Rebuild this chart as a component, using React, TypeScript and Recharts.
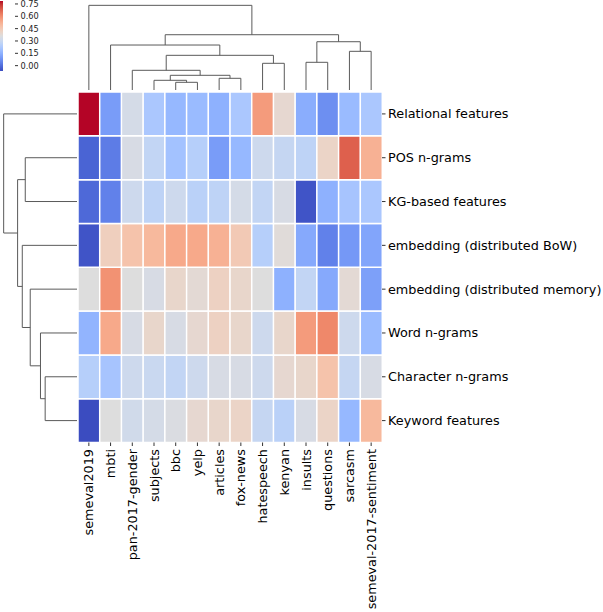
import React from "react";
import { BarChart, Bar, Cell, XAxis, YAxis, ComposedChart, Line, ReferenceArea } from "recharts";

const columns = [
  "semeval2019", "mbti", "pan-2017-gender", "subjects", "bbc", "yelp", "articles",
  "fox-news", "hatespeech", "kenyan", "insults", "questions", "sarcasm", "semeval-2017-sentiment",
];

const rows = [
  "Relational features", "POS n-grams", "KG-based features", "embedding (distributed BoW)",
  "embedding (distributed memory)", "Word n-grams", "Character n-grams", "Keyword features",
];

// one array per row, values in column order
const relational = [0.786, 0.10, 0.33, 0.22, 0.17, 0.18, 0.15, 0.22, 0.57, 0.39, 0.14, 0.07, 0.18, 0.22];
const posNgrams = [-0.02, 0.03, 0.34, 0.28, 0.20, 0.25, 0.10, 0.17, 0.31, 0.29, 0.27, 0.41, 0.68, 0.52];
const kgBased = [-0.01, 0.04, 0.31, 0.27, 0.31, 0.26, 0.27, 0.33, 0.28, 0.34, -0.05, 0.15, 0.21, 0.22];
const embeddingBow = [-0.05, 0.43, 0.47, 0.50, 0.54, 0.54, 0.52, 0.45, 0.25, 0.37, 0.13, 0.04, 0.09, 0.12];
const embeddingMemory = [0.36, 0.59, 0.36, 0.34, 0.40, 0.38, 0.42, 0.40, 0.36, 0.15, 0.28, 0.13, 0.38, 0.11];
const wordNgrams = [0.16, 0.54, 0.34, 0.40, 0.34, 0.39, 0.42, 0.40, 0.31, 0.40, 0.57, 0.61, 0.31, 0.18];
const charNgrams = [0.25, 0.21, 0.31, 0.30, 0.28, 0.31, 0.34, 0.34, 0.31, 0.39, 0.40, 0.47, 0.29, 0.34];
const keyword = [-0.065, 0.36, 0.32, 0.33, 0.35, 0.39, 0.40, 0.41, 0.29, 0.26, 0.34, 0.41, 0.17, 0.50];

const matrix = [relational, posNgrams, kgBased, embeddingBow, embeddingMemory, wordNgrams, charNgrams, keyword];

// linkage: [child a, child b, distance]; children >= n refer to earlier merges
const colLinkage = [
  [4, 5, 0.77], [3, 14, 0.97], [6, 7, 1.17], [15, 16, 1.47], [2, 17, 1.97],
  [8, 9, 2.67], [10, 11, 2.77], [18, 19, 3.47], [12, 13, 3.87], [1, 21, 4.5],
  [20, 22, 4.83], [23, 24, 5.53], [0, 25, 8.47],
];
const rowLinkage = [
  [6, 7, 3.2], [5, 8, 3.67], [4, 9, 4.7], [1, 2, 5.2], [3, 10, 5.5], [11, 12, 5.97], [0, 13, 7.37],
];

const cbarTicks = [0, 0.15, 0.3, 0.45, 0.6, 0.75];

// coolwarm colormap
const coolwarm = [
  [59, 76, 192], [68, 90, 204], [77, 104, 215], [87, 117, 225], [98, 130, 234], [108, 142, 241],
  [119, 154, 247], [130, 165, 251], [141, 176, 254], [152, 185, 255], [163, 194, 255], [174, 201, 253],
  [184, 208, 249], [194, 213, 244], [204, 217, 238], [213, 219, 230], [221, 221, 221], [229, 216, 209],
  [236, 211, 197], [241, 204, 185], [245, 196, 173], [247, 187, 160], [247, 177, 148], [247, 166, 135],
  [244, 154, 123], [241, 141, 111], [236, 127, 99], [229, 112, 88], [222, 96, 77], [213, 80, 66],
  [203, 62, 56], [192, 40, 47], [180, 4, 38],
];

const allValues = matrix.flat();
const vmin = Math.min(...allValues);
const vmax = Math.max(...allValues);

function cmap(t: number) {
  const s = Math.max(0, Math.min(1, t)) * (coolwarm.length - 1);
  const i = Math.min(Math.floor(s), coolwarm.length - 2);
  const f = s - i;
  const c = coolwarm[i].map((v, k) => Math.round(v + (coolwarm[i + 1][k] - v) * f));
  return `rgb(${c[0]},${c[1]},${c[2]})`;
}
const colorOf = (v: number) => cmap((v - vmin) / (vmax - vmin));

function buildLinks(linkage: number[][], n: number) {
  const pos = Array.from({ length: n }, (_, i) => i + 0.5);
  const hgt: number[] = Array(n).fill(0);
  return linkage.map(([a, b, h]) => {
    const seg = [
      { p: pos[a], h: hgt[a] },
      { p: pos[a], h },
      { p: pos[b], h },
      { p: pos[b], h: hgt[b] },
    ];
    pos.push((pos[a] + pos[b]) / 2);
    hgt.push(h);
    return seg;
  });
}

const colLinks = buildLinks(colLinkage, columns.length);
const rowLinks = buildLinks(rowLinkage, rows.length);
const colMax = Math.max(...colLinkage.map((l) => l[2]));
const rowMax = Math.max(...rowLinkage.map((l) => l[2]));

const table = columns.map((col) => {
  const o: any = { col };
  rows.forEach((_, r) => (o["r" + r] = 1));
  return o;
});

const FONT = "DejaVu Sans";
const LINE = "#5a5a5a";

const ColumnTick = (props: any) => {
  const { x, y, payload } = props;
  return (
    <text
      x={x}
      y={y}
      transform={`rotate(-90, ${x}, ${y})`}
      textAnchor="end"
      dominantBaseline="central"
      fontSize={12.8}
      fontFamily={FONT}
      fill="#000"
    >
      {payload.value}
    </text>
  );
};

const RowTick = (props: any) => {
  const { x, y, payload } = props;
  return (
    <text x={x} y={y} textAnchor="start" dominantBaseline="central" fontSize={12.8} fontFamily={FONT} fill="#000">
      {rows[rows.length - 1 - Math.floor(payload.value)]}
    </text>
  );
};

const CbarTick = (props: any) => {
  const { x, y, payload } = props;
  return (
    <text x={x} y={y} textAnchor="start" dominantBaseline="central" fontSize={8.2} fontFamily={FONT} fill="#222">
      {Number(payload.value).toFixed(2)}
    </text>
  );
};

export default function App() {
  const abs: React.CSSProperties = { position: "absolute", left: 0, top: 0 };
  return (
    <div style={{ position: "absolute", left: 0, top: 0, width: 603, height: 612, background: "#fff" }}>
      {/* heatmap */}
      <div style={abs}>
        <BarChart
          width={603}
          height={612}
          data={table}
          margin={{ top: 92, left: 78, right: 21, bottom: 9.5 }}
          barCategoryGap={0}
          barGap={0}
        >
          <XAxis
            dataKey="col"
            height={160}
            interval={0}
            axisLine={false}
            tickSize={3.5}
            tickMargin={3}
            tickLine={{ stroke: "#333" }}
            tick={<ColumnTick />}
          />
          <YAxis
            type="number"
            orientation="right"
            width={200}
            domain={[0, rows.length]}
            ticks={rows.map((_, i) => i + 0.5)}
            interval={0}
            axisLine={false}
            tickSize={3.5}
            tickMargin={2.5}
            tickLine={{ stroke: "#333" }}
            tick={<RowTick />}
          />
          {rows
            .map((_, r) => r)
            .reverse()
            .map((r) => (
              <Bar key={r} dataKey={"r" + r} stackId="s" isAnimationActive={false}>
                {columns.map((_, c) => (
                  <Cell key={c} fill={colorOf(matrix[r][c])} stroke="#fff" strokeWidth={1.5} />
                ))}
              </Bar>
            ))}
        </BarChart>
      </div>

      {/* column dendrogram */}
      <div style={abs}>
        <ComposedChart width={603} height={91} margin={{ top: 1.1, left: 78, right: 221, bottom: 1 }}>
          <XAxis dataKey="p" type="number" domain={[0, columns.length]} hide allowDataOverflow />
          <YAxis type="number" domain={[0, colMax * 1.05]} hide allowDataOverflow />
          {colLinks.map((seg, i) => (
            <Line
              key={i}
              data={seg}
              dataKey="h"
              type="linear"
              stroke={LINE}
              strokeWidth={1}
              dot={false}
              activeDot={false}
              isAnimationActive={false}
            />
          ))}
        </ComposedChart>
      </div>

      {/* row dendrogram */}
      <div style={abs}>
        <ComposedChart width={603} height={612} margin={{ top: 92, left: 0, right: 526, bottom: 169.5 }}>
          <XAxis dataKey="h" type="number" domain={[0, rowMax * 1.05]} reversed hide allowDataOverflow />
          <YAxis type="number" domain={[0, rows.length]} reversed hide allowDataOverflow />
          {rowLinks.map((seg, i) => (
            <Line
              key={i}
              data={seg}
              dataKey="p"
              type="linear"
              stroke={LINE}
              strokeWidth={1}
              dot={false}
              activeDot={false}
              isAnimationActive={false}
            />
          ))}
        </ComposedChart>
      </div>

      {/* colorbar */}
      <div style={abs}>
        <ComposedChart
          width={60}
          height={75}
          data={cbarTicks.map((t) => ({ t }))}
          margin={{ top: 1, left: 0, right: 0, bottom: 4 }}
        >
          <defs>
            <linearGradient id="cw" x1="0" y1="1" x2="0" y2="0">
              {coolwarm.map((c, i) => (
                <stop key={i} offset={i / (coolwarm.length - 1)} stopColor={`rgb(${c[0]},${c[1]},${c[2]})`} />
              ))}
            </linearGradient>
          </defs>
          <XAxis type="number" domain={[0, 1]} hide />
          <YAxis
            type="number"
            orientation="right"
            width={45}
            domain={[vmin, vmax]}
            ticks={cbarTicks}
            interval={0}
            axisLine={false}
            tickSize={3}
            tickMargin={2.5}
            tickLine={{ stroke: "#333" }}
            tick={<CbarTick />}
            allowDataOverflow
          />
          <ReferenceArea x1={0} x2={1} y1={vmin} y2={vmax} fill="url(#cw)" fillOpacity={1} stroke="none" />
        </ComposedChart>
      </div>
    </div>
  );
}
